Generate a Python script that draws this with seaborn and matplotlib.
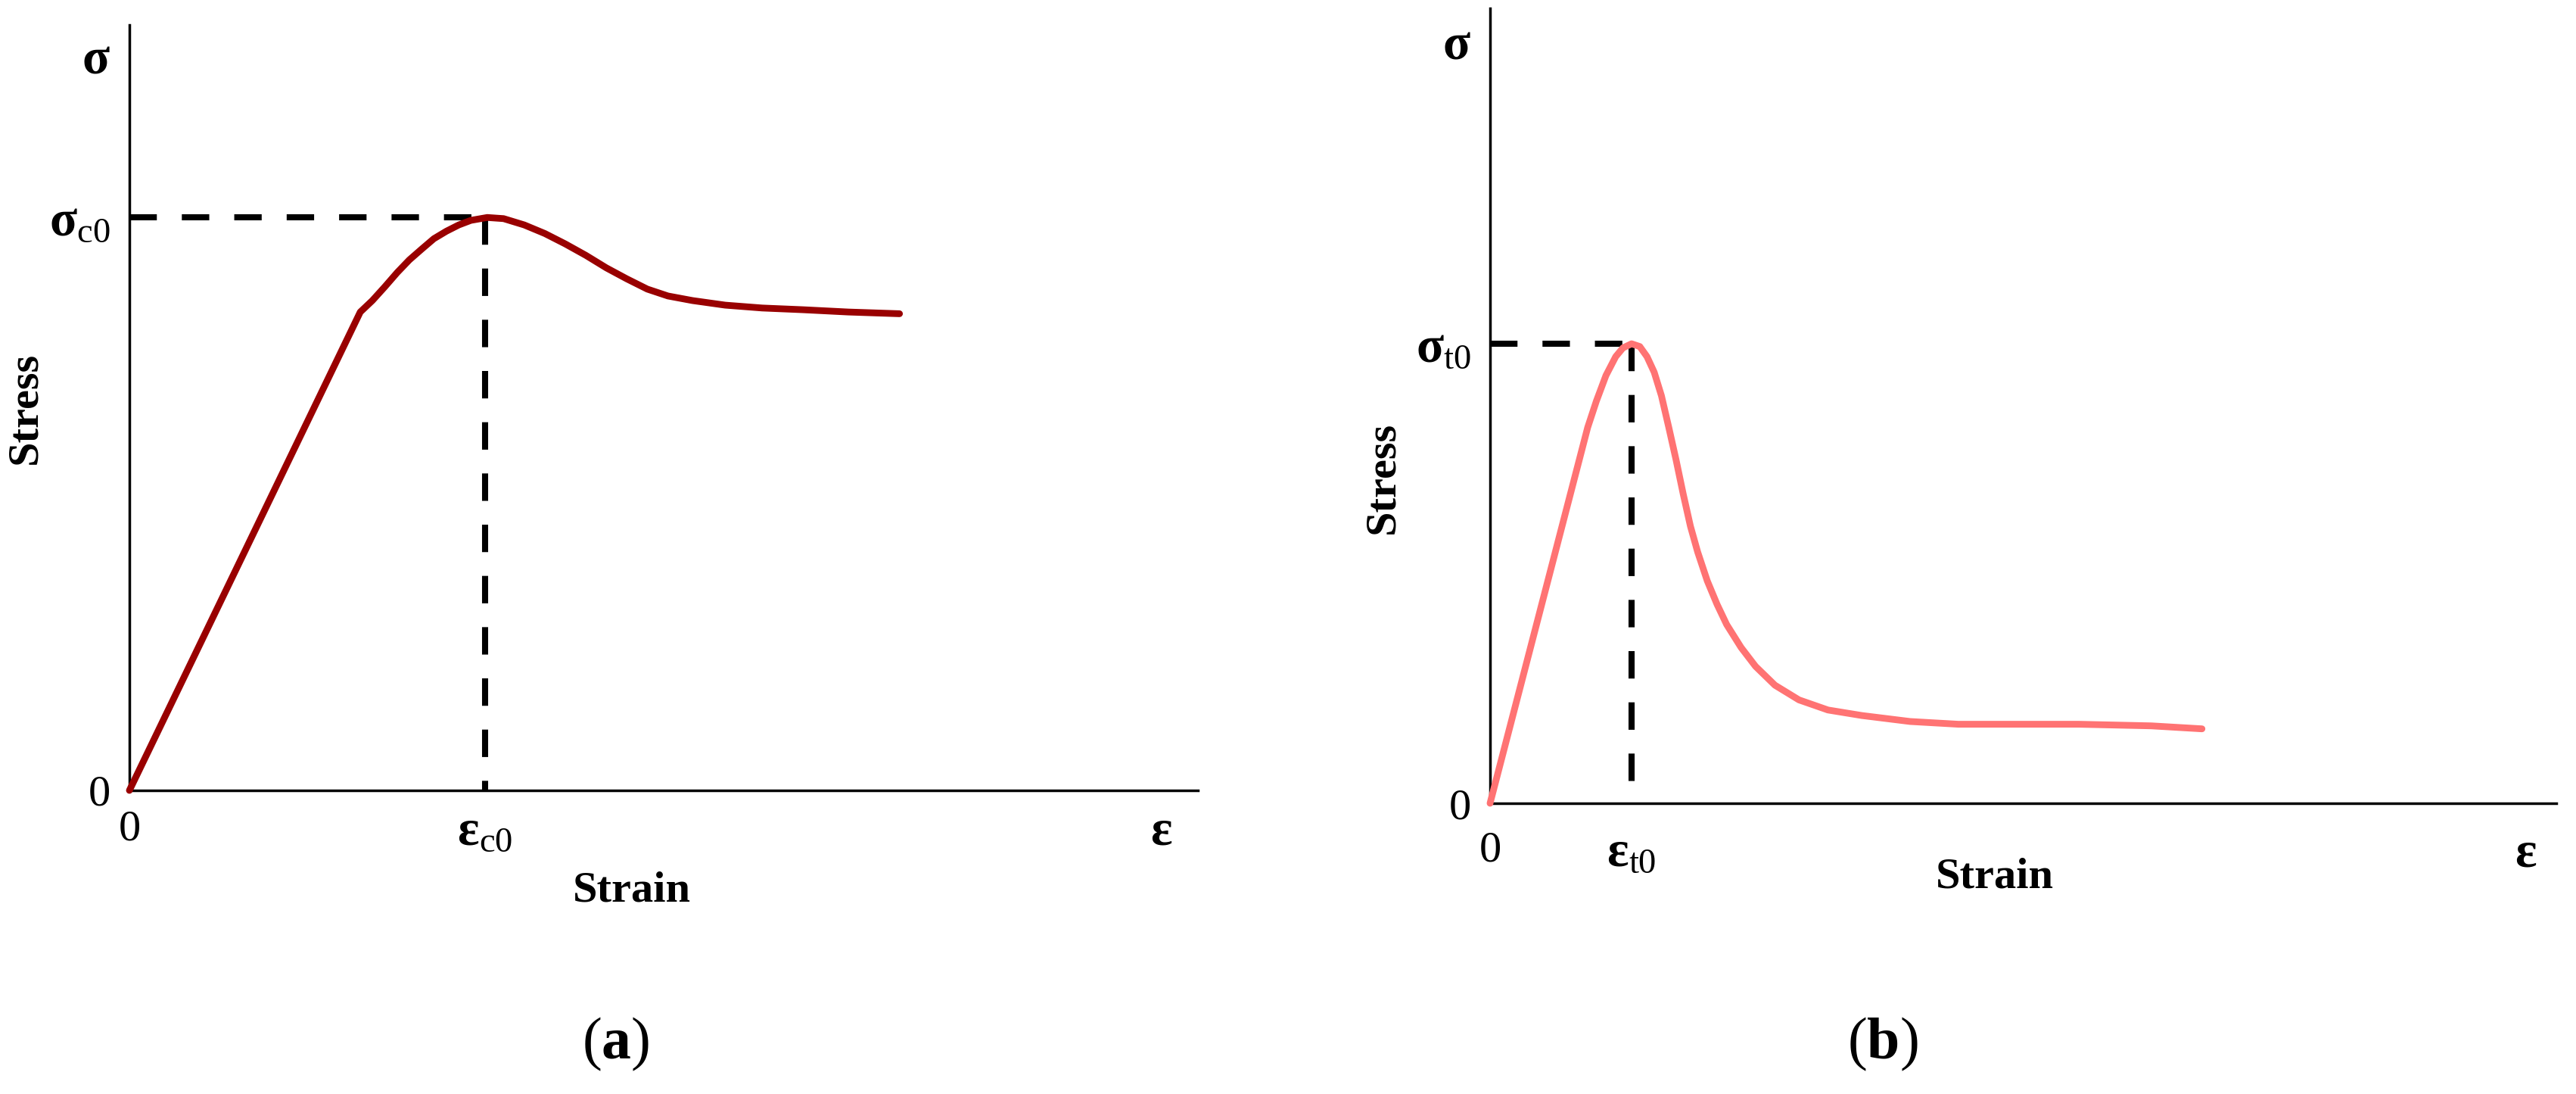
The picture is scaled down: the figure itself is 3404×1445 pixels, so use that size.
import numpy as np
import pandas as pd
import matplotlib
matplotlib.use("Agg")
import matplotlib.pyplot as plt
import seaborn as sns

# ------------------------------------------------------------
# Schematic stress-strain curves of concrete
# (a) compression, (b) tension, normalised by the peak point
# ------------------------------------------------------------

# compression branch (strain / eps_c0, stress / sigma_c0)
comp_strain = [0.0, 0.649, 0.683, 0.718, 0.753, 0.787, 0.822, 0.856, 0.891, 0.926, 0.960,
               1.006, 1.052, 1.110, 1.168, 1.225, 1.283, 1.341, 1.398, 1.456, 1.514,
               1.583, 1.675, 1.779, 1.894, 2.021, 2.165]
comp_stress = [0.0, 0.835, 0.855, 0.879, 0.904, 0.926, 0.945, 0.963, 0.976, 0.987, 0.995,
               1.0, 0.998, 0.987, 0.972, 0.954, 0.934, 0.912, 0.893, 0.875, 0.863,
               0.855, 0.847, 0.842, 0.839, 0.835, 0.832]

# tension branch (strain / eps_t0, stress / sigma_t0)
tens_strain = [0.0, 0.690, 0.751, 0.819, 0.888, 0.939, 1.0, 1.058, 1.109, 1.160, 1.211,
               1.263, 1.314, 1.365, 1.416, 1.467, 1.535, 1.604, 1.672, 1.774, 1.876,
               2.013, 2.183, 2.388, 2.627, 2.968, 3.309, 4.161, 4.673, 5.031]
tens_stress = [0.0, 0.818, 0.875, 0.931, 0.972, 0.991, 1.0, 0.994, 0.972, 0.938, 0.887,
               0.818, 0.748, 0.673, 0.603, 0.547, 0.484, 0.433, 0.389, 0.339, 0.298,
               0.257, 0.225, 0.203, 0.191, 0.178, 0.172, 0.172, 0.1685, 0.162]

# peak points used for the dashed guides
comp_peak = (1.0, 1.0)
tens_peak = (1.0, 1.0)

# axis extents and label positions (in normalised units)
comp_xmax, comp_ymax = 3.004, 1.336
tens_xmax, tens_ymax = 7.535, 1.73
comp_xticks = [0.0, 1.0, 2.902]
comp_yticks = [0.0, 1.0, 1.283]
tens_xticks = [0.0, 1.0, 7.32]
tens_yticks = [0.0, 1.0, 1.659]
comp_xticklabels = ["0", r"$\mathbf{ε}_{\mathrm{c0}}$", r"$\mathbf{ε}$"]
comp_yticklabels = ["0", r"$\mathbf{σ}_{\mathrm{c0}}$", r"$\mathbf{σ}$"]
tens_xticklabels = ["0", r"$\mathbf{ε}_{\mathrm{t0}}$", r"$\mathbf{ε}$"]
tens_yticklabels = ["0", r"$\mathbf{σ}_{\mathrm{t0}}$", r"$\mathbf{σ}$"]

comp_df = pd.DataFrame({"strain": comp_strain, "stress": comp_stress})
tens_df = pd.DataFrame({"strain": tens_strain, "stress": tens_stress})

sns.set_theme(style="white")
plt.rcParams["font.family"] = ["Liberation Serif", "DejaVu Serif"]
plt.rcParams["text.color"] = "black"
plt.rcParams["axes.labelcolor"] = "black"
plt.rcParams["mathtext.fontset"] = "custom"
plt.rcParams["mathtext.rm"] = "Liberation Serif"
plt.rcParams["mathtext.bf"] = "Liberation Serif:bold"
plt.rcParams["mathtext.it"] = "Liberation Serif:italic"

fig = plt.figure(figsize=(17.02, 7.225), dpi=200)
ax_a = fig.add_axes([171 / 3404, 1 - 1044 / 1445, 1412 / 3404, 1011 / 1445])
ax_b = fig.add_axes([1969 / 3404, 1 - 1061 / 1445, 1409 / 3404, 1050 / 1445])


def style_axis(ax, xmax, ymax, xticks, xlabels, yticks, ylabels, xpad, ypad):
    ax.set_xlim(0, xmax)
    ax.set_ylim(0, ymax)
    for side in ["top", "right"]:
        ax.spines[side].set_visible(False)
    for side in ["left", "bottom"]:
        ax.spines[side].set_color("black")
        ax.spines[side].set_linewidth(1.25)
    ax.set_xticks(xticks)
    ax.set_xticklabels(xlabels)
    ax.set_yticks(yticks)
    ax.set_yticklabels(ylabels)
    ax.tick_params(axis="x", length=0, pad=xpad, labelsize=24, colors="black")
    ax.tick_params(axis="y", length=0, pad=ypad, labelsize=24, colors="black")
    ax.get_xticklabels()[0].set_fontsize(21)
    ax.get_yticklabels()[0].set_fontsize(21)
    ax.grid(False)


def draw_panel(ax, df, peak, color):
    px, py = peak
    ax.plot([0, px], [py, py], color="black", lw=2.9, dashes=(4.5, 4.1), clip_on=False)
    ax.plot([px, px], [py, 0], color="black", lw=2.9, dashes=(4.5, 3.9), clip_on=False)
    sns.lineplot(data=df, x="strain", y="stress", ax=ax, sort=False, estimator=None,
                 color=color, linewidth=3.2, solid_capstyle="round",
                 solid_joinstyle="round", clip_on=False, zorder=3)


draw_panel(ax_a, comp_df, comp_peak, "#990000")
draw_panel(ax_b, tens_df, tens_peak, "#FF7373")

style_axis(ax_a, comp_xmax, comp_ymax, comp_xticks, comp_xticklabels,
           comp_yticks, comp_yticklabels, 9, 9)
style_axis(ax_b, tens_xmax, tens_ymax, tens_xticks, tens_xticklabels,
           tens_yticks, tens_yticklabels, 13, 9)

for ax, xl, yl in [(ax_a, (0.47, -0.105), (-0.079, 0.5)),
                   (ax_b, (0.473, -0.068), (-0.082, 0.41))]:
    ax.set_xlabel("Strain", fontsize=21, fontweight="bold", color="black")
    ax.set_ylabel("Stress", fontsize=21, fontweight="bold", color="black")
    ax.xaxis.set_label_coords(*xl)
    ax.yaxis.set_label_coords(*yl)

fig.text(814 / 3404, 1 - 1379 / 1445, r"($\mathbf{a}$)", ha="center", va="center",
         fontsize=28, color="black")
fig.text(2488 / 3404, 1 - 1379 / 1445, r"($\mathbf{b}$)", ha="center", va="center",
         fontsize=28, color="black")

fig.savefig("out.png", dpi=200, facecolor="white")
